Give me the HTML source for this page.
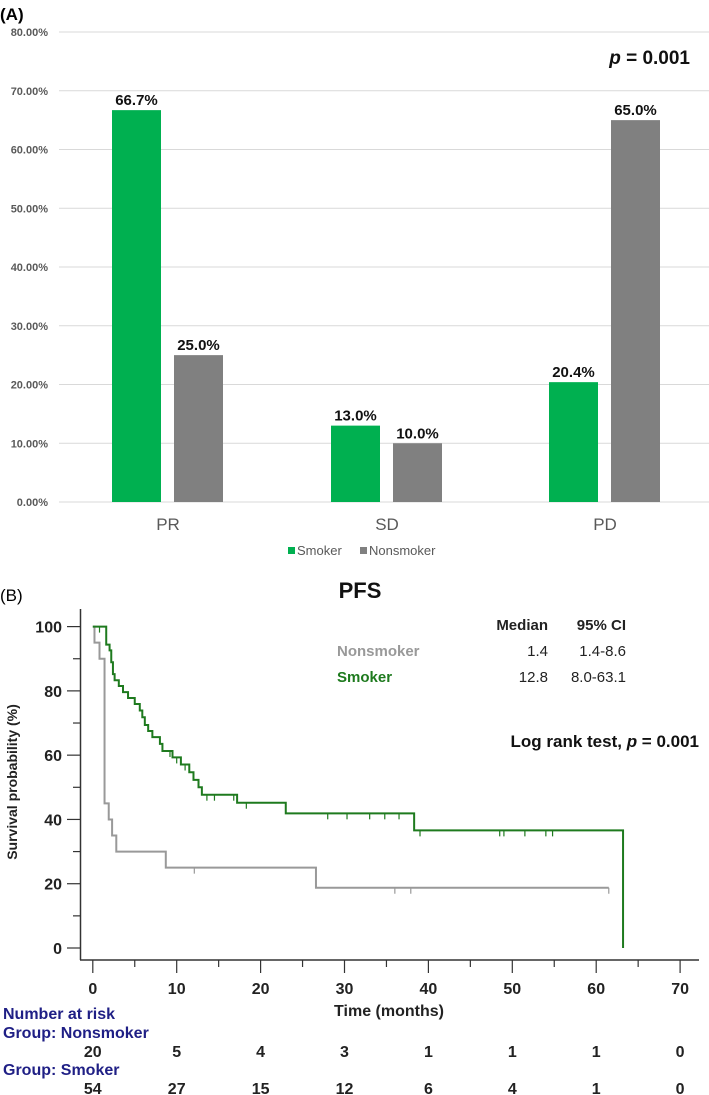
<!DOCTYPE html>
<html><head><meta charset="utf-8"><style>
html,body{margin:0;padding:0;background:#fff;}
svg{display:block;font-family:"Liberation Sans Narrow","Liberation Sans",sans-serif;}
</style></head><body>
<svg id="fig" width="709" height="1095" viewBox="0 0 709 1095">
<text x="0" y="20" font-size="17" font-weight="bold">(A)</text>
<g id="barchart"></g>
<text x="0" y="601" font-size="17">(B)</text>
<g id="km"></g>
</svg>
<script>
const NS='http://www.w3.org/2000/svg';
function mk(p,tag,at,txt){const e=document.createElementNS(NS,tag);for(const k in at)e.setAttribute(k,at[k]);if(txt!==undefined)e.textContent=txt;p.appendChild(e);return e;}

// ---- Bar chart data ----
const barCategories=['PR','SD','PD'];
const smokerValues=[66.7,13.0,20.4];
const nonsmokerValues=[25.0,10.0,65.0];
const barYTicks=[0,10,20,30,40,50,60,70,80];

// ---- KM data ----
const nsTimes=[0,0.2,0.8,1.4,1.9,2.3,2.8,8.7,26.6,61.5];
const nsSurv=[100,95,90,45,40,35,30,25,18.75,18.75];
const nsCensor=[12.1,36,37.9,61.5];
const smTimes=[0,1.6,2.0,2.2,2.4,2.6,3.1,3.6,4.2,5.0,5.6,5.9,6.2,6.6,7.1,8.0,8.3,9.5,10.5,11.5,12.0,12.6,13.0,17.2,23.0,38.3,63.2];
const smSurv=[100,94.4,92.6,88.9,85.2,83.3,81.5,79.6,77.8,75.9,73.9,71.8,69.4,67.5,65.6,63.5,61.3,59.3,57.1,54.7,52.3,50.0,47.7,45.2,41.9,36.6,0];
const smCensor=[0.8,9.2,10.0,11.0,13.6,14.5,16.8,18.3,28.0,30.3,33.0,34.8,36.5,39.0,48.5,49.0,51.5,54.0,54.8];
const kmXTicks=[0,10,20,30,40,50,60,70];
const kmYTicks=[0,20,40,60,80,100];
const riskNonsmoker=[20,5,4,3,1,1,1,0];
const riskSmoker=[54,27,15,12,6,4,1,0];

// ---- Bar chart ----
(function(){
const g=document.getElementById('barchart');
const y=v=>502-v*5.875;
const catX=[168,387,605];
barYTicks.forEach(t=>{
 const l=mk(g,'line',{x1:59,x2:709,y1:y(t),y2:y(t),stroke:'#d9d9d9','stroke-width':1});
 
 const tx=mk(g,'text',{x:48,y:y(t)+4,'text-anchor':'end','font-size':11,fill:'#595959','font-weight':'bold'},t.toFixed(2)+'%');
 
});
barCategories.forEach((c,i)=>{
 const series=[[smokerValues[i],'#00b050',-56,'smoker'],[nonsmokerValues[i],'#808080',6,'nonsmoker']];
 series.forEach(s=>{
  const r=mk(g,'rect',{x:catX[i]+s[2],y:y(s[0]),width:49,height:502-y(s[0]),fill:s[1]});
  
  const lb=mk(g,'text',{x:catX[i]+s[2]+24.5,y:y(s[0])-5,'text-anchor':'middle','font-size':15,'font-weight':'bold',fill:'#111'},s[0].toFixed(1)+'%');
  
 });
 const ct=mk(g,'text',{x:catX[i],y:530,'text-anchor':'middle','font-size':17,fill:'#595959'},c);
 
});
let e=mk(g,'text',{x:690,y:64,'text-anchor':'end','font-size':19,'font-weight':'bold',fill:'#111'});
e.innerHTML='<tspan font-style="italic">p</tspan> = 0.001';

e=mk(g,'rect',{x:288,y:547,width:7,height:7,fill:'#00b050'});
e=mk(g,'text',{x:297,y:555,'font-size':13,fill:'#595959'},'Smoker');
e=mk(g,'rect',{x:360,y:547,width:7,height:7,fill:'#808080'});
e=mk(g,'text',{x:369,y:555,'font-size':13,fill:'#595959'},'Nonsmoker');
})();

// ---- KM chart ----
(function(){
const g=document.getElementById('km');
const x=t=>92.8+t*8.39;
const y=v=>948-v*3.214;
let e;
e=mk(g,'line',{x1:80.5,x2:80.5,y1:609,y2:960,stroke:'#333','stroke-width':1.5});
e=mk(g,'line',{x1:80,x2:699,y1:960,y2:960,stroke:'#333','stroke-width':1.5});
for(let v=0;v<=100;v+=10){e=mk(g,'line',{x1:v%20===0?67:73,x2:80,y1:y(v),y2:y(v),stroke:'#333','stroke-width':1.2});}
for(let t=0;t<=70;t+=5){e=mk(g,'line',{x1:x(t),x2:x(t),y1:960,y2:t%10===0?973:967,stroke:'#333','stroke-width':1.2});}
kmYTicks.forEach(v=>{e=mk(g,'text',{x:62,y:y(v)+6,'text-anchor':'end','font-size':16,'font-weight':'bold',fill:'#222'},v);});
kmXTicks.forEach((t,i)=>{
 e=mk(g,'text',{x:x(t),y:994,'text-anchor':'middle','font-size':16,'font-weight':'bold',fill:'#222'},t);
 e=mk(g,'text',{x:x(t),y:1057,'text-anchor':'middle','font-size':16,'font-weight':'bold',fill:'#222'},riskNonsmoker[i]);
 e=mk(g,'text',{x:x(t),y:1094,'text-anchor':'middle','font-size':16,'font-weight':'bold',fill:'#222'},riskSmoker[i]);
});
e=mk(g,'text',{x:389,y:1016,'text-anchor':'middle','font-size':16,'font-weight':'bold',fill:'#222'},'Time (months)');
e=mk(g,'text',{x:0,y:0,transform:'translate(17,782) rotate(-90)','text-anchor':'middle','font-size':14,'font-weight':'bold',fill:'#222','font-family':'Liberation Sans,sans-serif'},'Survival probability (%)');
e=mk(g,'text',{x:360,y:598,'text-anchor':'middle','font-size':22,'font-weight':'bold',fill:'#111'},'PFS');
const tf={'font-size':15,'font-weight':'bold'};
e=mk(g,'text',Object.assign({x:548,y:630,'text-anchor':'end',fill:'#222'},tf),'Median');
e=mk(g,'text',Object.assign({x:626,y:630,'text-anchor':'end',fill:'#222'},tf),'95% CI');
e=mk(g,'text',Object.assign({x:337,y:656,fill:'#999'},tf),'Nonsmoker');
e=mk(g,'text',{x:548,y:656,'text-anchor':'end','font-size':15,fill:'#222'},'1.4');
e=mk(g,'text',{x:626,y:656,'text-anchor':'end','font-size':15,fill:'#222'},'1.4-8.6');
e=mk(g,'text',Object.assign({x:337,y:682,fill:'#1e7a1e'},tf),'Smoker');
e=mk(g,'text',{x:548,y:682,'text-anchor':'end','font-size':15,fill:'#222'},'12.8');
e=mk(g,'text',{x:626,y:682,'text-anchor':'end','font-size':15,fill:'#222'},'8.0-63.1');
e=mk(g,'text',{x:699,y:747,'text-anchor':'end','font-size':17,'font-weight':'bold',fill:'#111'});
e.innerHTML='Log rank test, <tspan font-style="italic">p</tspan> = 0.001';
const navy='#1f1f85';
[['Number at risk',1019,'risk-title'],['Group: Nonsmoker',1038,'risk-group-nonsmoker'],['Group: Smoker',1075,'risk-group-smoker']].forEach(a=>{
 e=mk(g,'text',{x:3,y:a[1],'font-size':16,'font-weight':'bold',fill:navy},a[0]);
});
function curve(ts,ss,cens,col,name){
 let d='M'+x(ts[0])+','+y(ss[0]);
 for(let i=1;i<ts.length;i++){d+=' H'+x(ts[i])+' V'+y(ss[i]);}
 const p=mk(g,'path',{d:d,fill:'none',stroke:col,'stroke-width':2});
 
 cens.forEach(c=>{
  let s=ss[0];for(let i=0;i<ts.length;i++){if(ts[i]<=c)s=ss[i];}
  if(c>=ts[ts.length-1])s=ss[ss.length-2];
  const t=mk(g,'line',{x1:x(c),x2:x(c),y1:y(s),y2:y(s)+6,stroke:col,'stroke-width':1.2});
  
 });
}
curve(nsTimes,nsSurv,nsCensor,'#999999','nonsmoker');
curve(smTimes,smSurv,smCensor,'#1e7a1e','smoker');
})();
</script>
</body></html>
